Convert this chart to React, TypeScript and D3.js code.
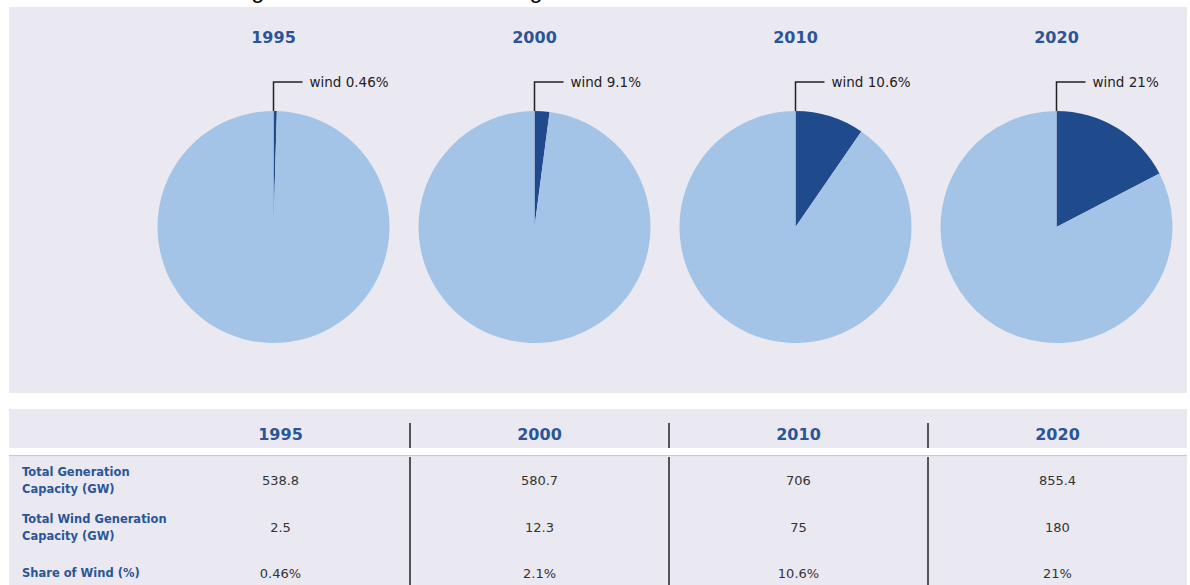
import * as d3 from "d3";

const years = ["1995", "2000", "2010", "2020"];
const totalCapacity = [538.8, 580.7, 706, 855.4];
const windCapacity = [2.5, 12.3, 75, 180];
const shareLabels = ["0.46%", "2.1%", "10.6%", "21%"];
const pieLabels = ["wind 0.46%", "wind 9.1%", "wind 10.6%", "wind 21%"];
const rowLabels = [
  ["Total Generation", "Capacity (GW)"],
  ["Total Wind Generation", "Capacity (GW)"],
  ["Share of Wind (%)"],
];
const title = "Rising Wind Share of Generating Mix";

const W = 1190;
const H = 585;
const BG = "#EAE9F2";
const BLUE_TEXT = "#2B5597";
const LIGHT = "#A3C4E7";
const DARK = "#1F4A8C";
const FONT = "'DejaVu Sans', Verdana, sans-serif";

const PIE_CY = 227;
const PIE_R = 116;

export default function App() {
  // pie centres
  const xPie = d3.scaleBand().domain(years).range([143, 1187]);
  // table columns
  const xCol = d3.scaleBand().domain(years).range([151, 1187]);

  const pie = d3.pie<number>().sort(null).value((d) => d);
  const arc = d3.arc<d3.PieArcDatum<number>>().innerRadius(0).outerRadius(PIE_R);

  const tableRows = [
    totalCapacity.map((v) => String(v)),
    windCapacity.map((v) => String(v)),
    shareLabels,
  ];
  const rowY = [480, 527, 573];

  return (
    <div style={{ position: "absolute", left: 0, top: 0 }}>
      <svg width={W} height={H} style={{ display: "block", background: "#fff" }}>
        {/* title, cut off at the top of the picture: only the descenders show */}
        <text x={199} y={-2.5} fontFamily="Arial, 'Liberation Sans', sans-serif" fontSize={23.5} fill="#000">
          {title}
        </text>

        {/* upper panel with pies */}
        <rect x={9} y={7} width={1178} height={386} fill={BG} />
        {years.map((yr, i) => {
          const cx = (xPie(yr) ?? 0) + xPie.bandwidth() / 2;
          const slices = pie([windCapacity[i], totalCapacity[i]]);
          const topY = PIE_CY - PIE_R;
          return (
            <g key={yr}>
              <text
                x={cx}
                y={43}
                textAnchor="middle"
                fontFamily={FONT}
                fontWeight="bold"
                fontSize={16}
                fill={BLUE_TEXT}
              >
                {yr}
              </text>
              <g transform={`translate(${cx},${PIE_CY})`}>
                {slices.map((s, j) => (
                  <path key={j} d={arc(s) ?? ""} fill={j === 0 ? DARK : LIGHT} />
                ))}
              </g>
              <polyline
                points={`${cx},${topY} ${cx},${82} ${cx + 29},${82}`}
                fill="none"
                stroke="#222"
                strokeWidth={1.5}
              />
              <text x={cx + 36} y={87} fontFamily={FONT} fontSize={13.5} fill="#222">
                {pieLabels[i]}
              </text>
            </g>
          );
        })}

        {/* table */}
        <rect x={9} y={409} width={1178} height={39} fill={BG} />
        <rect x={9} y={455} width={1178} height={1.5} fill="#C9C8CF" />
        <rect x={9} y={456.5} width={1178} height={H - 456.5} fill={BG} />

        {years.map((yr, i) => {
          const cx = (xCol(yr) ?? 0) + xCol.bandwidth() / 2;
          return (
            <g key={yr}>
              <text
                x={cx}
                y={440}
                textAnchor="middle"
                fontFamily={FONT}
                fontWeight="bold"
                fontSize={16}
                fill={BLUE_TEXT}
              >
                {yr}
              </text>
              {tableRows.map((row, r) => (
                <text
                  key={r}
                  x={cx}
                  y={rowY[r] + 5}
                  textAnchor="middle"
                  fontFamily={FONT}
                  fontSize={13}
                  fill="#333"
                >
                  {row[i]}
                </text>
              ))}
            </g>
          );
        })}

        {/* column dividers */}
        {years.slice(1).map((yr) => {
          const x = xCol(yr) ?? 0;
          return (
            <g key={yr}>
              <line x1={x} x2={x} y1={423} y2={448} stroke="#222" strokeWidth={1.5} />
              <line x1={x} x2={x} y1={457} y2={H} stroke="#222" strokeWidth={1.5} />
            </g>
          );
        })}

        {/* row labels */}
        {rowLabels.map((lines, r) => (
          <text
            key={r}
            x={22}
            y={rowY[r] + 4 - (lines.length - 1) * 8.5}
            fontFamily={FONT}
            fontWeight="bold"
            fontSize={11.5}
            fill={BLUE_TEXT}
          >
            {lines.map((l, k) => (
              <tspan key={k} x={22} dy={k === 0 ? 0 : 17}>
                {l}
              </tspan>
            ))}
          </text>
        ))}
      </svg>
    </div>
  );
}
